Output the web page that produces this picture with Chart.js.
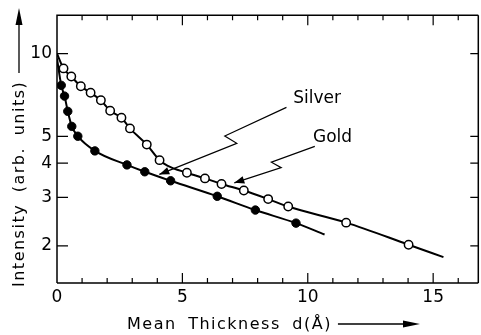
<!DOCTYPE html>
<html><head><meta charset="utf-8">
<script src="https://cdn.jsdelivr.net/npm/chart.js@4.4.1/dist/chart.umd.min.js"></script>
<style>html,body{margin:0;padding:0;overflow:hidden;background:#fff}canvas{display:block}</style>
</head><body>
<canvas id="c" width="484" height="335"></canvas>
<script>
// ---- data ----
const silverThickness = [0.26,0.57,0.95,1.34,1.75,2.12,2.57,2.91,3.58,4.09,5.18,5.90,6.56,7.45,8.42,9.22,11.53,14.02];
const silverIntensity = [8.84,8.26,7.61,7.21,6.77,6.20,5.85,5.35,4.67,4.10,3.69,3.52,3.36,3.18,2.96,2.78,2.43,2.02];
const goldThickness = [0.17,0.30,0.43,0.59,0.83,1.51,2.79,3.50,4.53,6.39,7.91,9.53];
const goldIntensity = [7.67,7.01,6.17,5.44,5.01,4.43,3.94,3.72,3.45,3.03,2.70,2.42];
// extra points of the drawn curves (start, bend, end)
const silverCurveThickness = [0, 4.40, 15.41];
const silverCurveIntensity = [10.0, 3.92, 1.82];
const goldCurveThickness = [0, 10.67];
const goldCurveIntensity = [9.6, 2.20];
const xTickLabels = [0, 5, 10, 15];
const xMinorTicks = [1,2,3,4,6,7,8,9,11,12,13,14,16];
const yTickLabels = [2, 3, 4, 5, 10];
const seriesNames = ['Silver', 'Gold'];
const xTitle = 'Mean Thickness d(Å)';
const yTitle = 'Intensity (arb. units)';
// annotation anchors in data coordinates
const silverArrow = [[9.15,6.38],[6.69,5.02],[7.17,4.72],[4.08,3.64]];
const goldArrow = [[10.28,4.60],[8.55,4.03],[8.94,3.85],[7.07,3.39]];
const silverLabelAt = [9.42, 6.86];
const goldLabelAt = [10.21, 4.94];

function pts(xs, ys){ return xs.map((x,i)=>({x:x, y:ys[i]})); }
function curve(xs, ys, cx, cy){ return pts(xs,ys).concat(pts(cx,cy)).sort((a,b)=>a.x-b.x); }

const FONT = '"DejaVu Sans", sans-serif';

const decor = {
  id: 'decor',
  afterDraw(chart){
    const ctx = chart.ctx, xs = chart.scales.x, ys = chart.scales.y, a = chart.chartArea;
    const X = v => xs.getPixelForValue(v), Y = v => ys.getPixelForValue(v);
    ctx.save();
    ctx.strokeStyle = '#000'; ctx.fillStyle = '#000';
    // frame
    ctx.lineWidth = 1.5;
    ctx.beginPath();
    ctx.moveTo(a.left, a.bottom); ctx.lineTo(a.left, a.top); ctx.lineTo(a.right, a.top);
    ctx.moveTo(a.left, a.bottom); ctx.lineTo(a.right, a.bottom);
    ctx.moveTo(a.right, a.top); ctx.lineTo(a.right, a.bottom);
    ctx.stroke();
    // ticks
    ctx.lineWidth = 1.2;
    ctx.beginPath();
    xMinorTicks.forEach(v => { const p = X(v);
      ctx.moveTo(p, a.bottom); ctx.lineTo(p, a.bottom - 5);
      ctx.moveTo(p, a.top); ctx.lineTo(p, a.top + 5); });
    xTickLabels.forEach(v => { const p = X(v); if (v === 0) return;
      ctx.moveTo(p, a.bottom); ctx.lineTo(p, a.bottom - 10);
      ctx.moveTo(p, a.top); ctx.lineTo(p, a.top + 10); });
    yTickLabels.forEach(v => { const p = Y(v);
      ctx.moveTo(a.left, p); ctx.lineTo(a.left + 11, p);
      ctx.moveTo(a.right, p); ctx.lineTo(a.right - 8, p); });
    ctx.stroke();
    // annotation arrows
    function arrow(path){
      const p = path.map(q => [X(q[0]), Y(q[1])]);
      ctx.lineWidth = 1.2;
      ctx.beginPath(); ctx.moveTo(p[0][0], p[0][1]);
      for (let i = 1; i < p.length; i++) ctx.lineTo(p[i][0], p[i][1]);
      ctx.stroke();
      const t = p[p.length-1], s = p[p.length-2];
      const ang = Math.atan2(t[1]-s[1], t[0]-s[0]);
      const L = 10, W = 3.8;
      ctx.beginPath();
      ctx.moveTo(t[0], t[1]);
      ctx.lineTo(t[0] - L*Math.cos(ang) - W*Math.sin(ang), t[1] - L*Math.sin(ang) + W*Math.cos(ang));
      ctx.lineTo(t[0] - L*Math.cos(ang) + W*Math.sin(ang), t[1] - L*Math.sin(ang) - W*Math.cos(ang));
      ctx.closePath(); ctx.fill();
    }
    arrow(silverArrow); arrow(goldArrow);
    ctx.font = '17px ' + FONT; ctx.textBaseline = 'middle'; ctx.textAlign = 'left';
    ctx.fillText(seriesNames[0], X(silverLabelAt[0]), Y(silverLabelAt[1]));
    ctx.fillText(seriesNames[1], X(goldLabelAt[0]), Y(goldLabelAt[1]));
    // x title + arrow
    ctx.font = '16px ' + FONT;
    try { ctx.letterSpacing = '1.5px'; ctx.wordSpacing = '5px'; } catch(e) {}
    ctx.textAlign = 'left';
    ctx.fillText(xTitle, 127, 325);
    const xw = ctx.measureText(xTitle).width;
    ctx.lineWidth = 1.3;
    ctx.beginPath(); ctx.moveTo(127 + xw + 6, 324); ctx.lineTo(406, 324); ctx.stroke();
    ctx.beginPath(); ctx.moveTo(420, 324); ctx.lineTo(403, 320.5); ctx.lineTo(403, 327.5); ctx.closePath(); ctx.fill();
    // y title + arrow
    ctx.save();
    ctx.translate(20, 287); ctx.rotate(-Math.PI/2);
    ctx.textAlign = 'left';
    ctx.fillText(yTitle, 0, 0);
    ctx.restore();
    ctx.beginPath(); ctx.moveTo(19, 73); ctx.lineTo(19, 22); ctx.stroke();
    ctx.beginPath(); ctx.moveTo(19, 8); ctx.lineTo(15.5, 25); ctx.lineTo(22.5, 25); ctx.closePath(); ctx.fill();
    ctx.restore();
  }
};

new Chart(document.getElementById('c'), {
  type: 'line',
  data: {
    datasets: [
      { label: seriesNames[0] + ' points', data: pts(silverThickness, silverIntensity), showLine: false,
        pointRadius: 4.2, pointBackgroundColor: '#fff', pointBorderColor: '#000', pointBorderWidth: 1.5, order: 0 },
      { label: seriesNames[1] + ' points', data: pts(goldThickness, goldIntensity), showLine: false,
        pointRadius: 4.2, pointBackgroundColor: '#000', pointBorderColor: '#000', pointBorderWidth: 1, order: 1 },
      { label: seriesNames[0], data: curve(silverThickness, silverIntensity, silverCurveThickness, silverCurveIntensity),
        borderColor: '#000', borderWidth: 2, pointRadius: 0, cubicInterpolationMode: 'monotone', fill: false, order: 2 },
      { label: seriesNames[1], data: curve(goldThickness, goldIntensity, goldCurveThickness, goldCurveIntensity),
        borderColor: '#000', borderWidth: 2, pointRadius: 0, cubicInterpolationMode: 'monotone', fill: false, order: 3 }
    ]
  },
  options: {
    responsive: false, animation: false, devicePixelRatio: 1,
    layout: { padding: { top: 9, right: 2, left: 0, bottom: 0 } },
    plugins: { legend: { display: false }, tooltip: { enabled: false } },
    scales: {
      x: { type: 'linear', min: 0, max: 16.8,
        grid: { display: false, drawTicks: false }, border: { display: false },
        ticks: { color: '#000', font: { family: FONT, size: 17 }, padding: 4, maxRotation: 0 },
        afterBuildTicks: s => { s.ticks = xTickLabels.map(v => ({ value: v })); },
        afterFit: s => { s.height = 52; } },
      y: { type: 'logarithmic', min: 1.466, max: 13.8,
        grid: { display: false, drawTicks: false }, border: { display: false },
        ticks: { color: '#000', font: { family: FONT, size: 17 }, padding: 5, callback: v => String(v) },
        afterBuildTicks: s => { s.ticks = yTickLabels.map(v => ({ value: v })); },
        afterFit: s => { s.width = 57; } }
    }
  },
  plugins: [decor]
});
</script>
</body></html>
